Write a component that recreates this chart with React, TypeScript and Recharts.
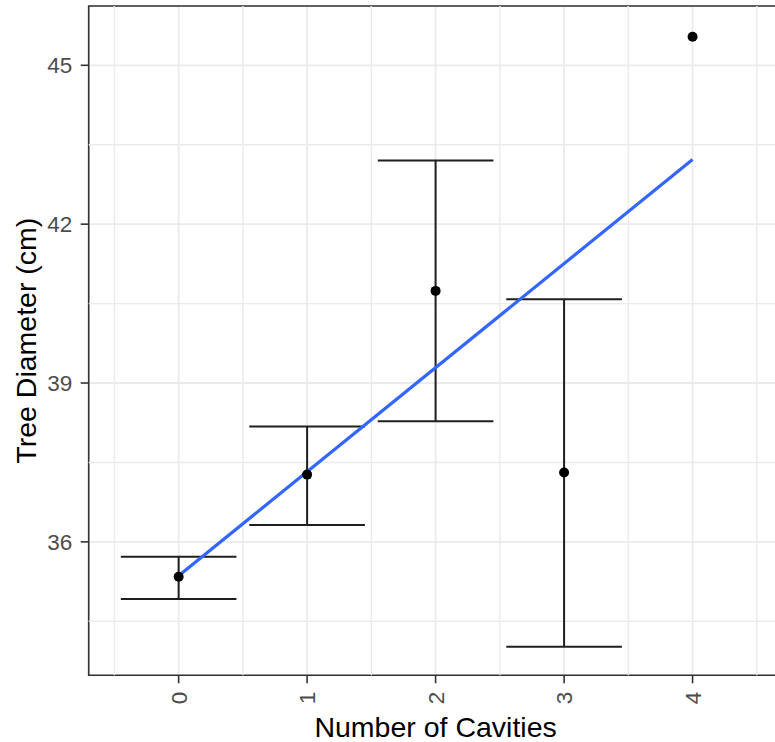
import React from "react";
import {
  ComposedChart,
  XAxis,
  YAxis,
  CartesianGrid,
  Scatter,
  Line,
  ReferenceLine,
  ReferenceArea,
  Label,
} from "recharts";

// ---- data ----
const cavities = [0, 1, 2, 3, 4];
const meanDiameter = [35.34, 37.27, 40.74, 37.31, 45.54];
const errLower: (number | null)[] = [34.92, 36.32, 38.28, 34.02, null];
const errUpper: (number | null)[] = [35.72, 38.18, 43.2, 40.58, null];
const fitX = [0, 4];
const fitY = [35.36, 43.22];
const xTicks = [0, 1, 2, 3, 4];
const xMinor = [-0.5, 0.5, 1.5, 2.5, 3.5, 4.5];
const yTicks = [36, 39, 42, 45];
const yMinor = [34.5, 37.5, 40.5, 43.5];
const xDomain = [-0.7, 4.7];
const yDomain = [33.48, 46.12];
const capHalf = 0.45;

const points = cavities.map((c, i) => ({ x: c, y: meanDiameter[i] }));
const fitData = fitX.map((x, i) => ({ x, y: fitY[i] }));
const bars = cavities
  .map((c, i) => ({ x: c, lo: errLower[i], hi: errUpper[i] }))
  .filter((b) => b.lo != null && b.hi != null) as { x: number; lo: number; hi: number }[];

const FONT = "'Liberation Sans', Arial, Helvetica, sans-serif";
const GRID = "#EBEBEB";
const BAR = "#1f1f1f";

const XTick = (props: any) => {
  const { x, y, payload } = props;
  return (
    <g transform={`translate(${x},${y})`}>
      <text
        transform="rotate(-90)"
        textAnchor="end"
        dy="0.36em"
        fill="#4D4D4D"
        fontSize={22.5}
        fontFamily={FONT}
      >
        {payload.value}
      </text>
    </g>
  );
};

const Dot = (props: any) => {
  const { cx, cy } = props;
  return <circle cx={cx} cy={cy} r={5} fill="#000" />;
};

export default function App() {
  return (
    <div
      style={{
        position: "absolute",
        left: 0,
        top: 0,
        width: 775,
        height: 742,
        overflow: "hidden",
        background: "#fff",
      }}
    >
      <ComposedChart
        width={800}
        height={742}
        margin={{ top: 6, right: 17.5, left: 0, bottom: 0 }}
        style={{ fontFamily: FONT }}
      >
        <CartesianGrid stroke={GRID} strokeWidth={1.8} />
        {xMinor.map((v) => (
          <ReferenceLine key={"xm" + v} x={v} stroke={GRID} strokeWidth={1.4} />
        ))}
        {yMinor.map((v) => (
          <ReferenceLine key={"ym" + v} y={v} stroke={GRID} strokeWidth={1.4} />
        ))}
        <XAxis
          type="number"
          dataKey="x"
          domain={xDomain}
          ticks={xTicks}
          allowDataOverflow
          height={66.7}
          axisLine={false}
          tickSize={8}
          tickMargin={8.5}
          tickLine={{ stroke: "#333333", strokeWidth: 1.6 }}
          tick={<XTick />}
          interval={0}
        >
          <Label
            content={(p: any) => {
              const vb = p.viewBox;
              return (
                <text
                  x={vb.x + vb.width / 2}
                  y={vb.y + 61.2}
                  textAnchor="middle"
                  fontSize={28.5}
                  fontFamily={FONT}
                  fill="#000"
                >
                  Number of Cavities
                </text>
              );
            }}
          />
        </XAxis>
        <YAxis
          type="number"
          dataKey="y"
          domain={yDomain}
          ticks={yTicks}
          allowDataOverflow
          width={88.7}
          axisLine={false}
          tickSize={8}
          tickMargin={8.5}
          tickLine={{ stroke: "#333333", strokeWidth: 1.6 }}
          tick={{ fill: "#4D4D4D", fontSize: 22.5, fontFamily: FONT }}
          interval={0}
        >
          <Label
            content={(p: any) => {
              const vb = p.viewBox;
              const cx = 26;
              const cy = vb.y + vb.height / 2;
              return (
                <text
                  x={cx}
                  y={cy}
                  transform={`rotate(-90, ${cx}, ${cy})`}
                  textAnchor="middle"
                  dominantBaseline="central"
                  fontSize={28.5}
                  fontFamily={FONT}
                  fill="#000"
                >
                  Tree Diameter (cm)
                </text>
              );
            }}
          />
        </YAxis>
        {bars.map((b) => (
          <ReferenceLine
            key={"v" + b.x}
            segment={[
              { x: b.x, y: b.lo },
              { x: b.x, y: b.hi },
            ]}
            stroke={BAR}
            strokeWidth={2}
          />
        ))}
        {bars.map((b) => (
          <ReferenceLine
            key={"t" + b.x}
            segment={[
              { x: b.x - capHalf, y: b.hi },
              { x: b.x + capHalf, y: b.hi },
            ]}
            stroke={BAR}
            strokeWidth={2}
          />
        ))}
        {bars.map((b) => (
          <ReferenceLine
            key={"b" + b.x}
            segment={[
              { x: b.x - capHalf, y: b.lo },
              { x: b.x + capHalf, y: b.lo },
            ]}
            stroke={BAR}
            strokeWidth={2}
          />
        ))}
        <Line
          data={fitData}
          dataKey="y"
          type="linear"
          dot={false}
          activeDot={false}
          stroke="#3366FF"
          strokeWidth={3.2}
          isAnimationActive={false}
        />
        <Scatter data={points} shape={<Dot />} isAnimationActive={false} />
        <ReferenceArea
          x1={xDomain[0]}
          x2={xDomain[1]}
          y1={yDomain[0]}
          y2={yDomain[1]}
          fill="none"
          fillOpacity={0}
          stroke="#333333"
          strokeWidth={1.6}
        />
      </ComposedChart>
    </div>
  );
}
